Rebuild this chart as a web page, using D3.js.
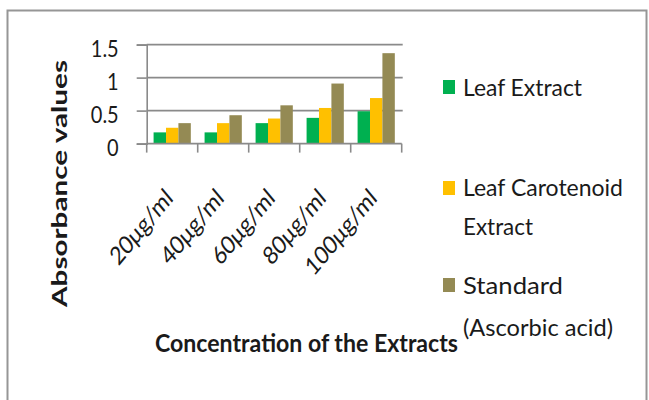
<!DOCTYPE html>
<html>
<head>
<meta charset="utf-8">
<script src="https://cdn.jsdelivr.net/npm/d3@7"></script>
<style>
  html, body { margin: 0; padding: 0; background: #fff; }
  svg { display: block; }
  text { font-family: Lato, "Open Sans", sans-serif; fill: #1a1a1a; }
</style>
</head>
<body>
<svg id="chart" width="649" height="400"></svg>
<script>
// Concentrations tested
const categories = ["20μg/ml", "40μg/ml", "60μg/ml", "80μg/ml", "100μg/ml"];

// Absorbance readings per sample
const leafExtract = [0.17, 0.17, 0.31, 0.39, 0.49];
const leafCarotenoidExtract = [0.24, 0.31, 0.38, 0.54, 0.69];
const standardAscorbic = [0.31, 0.43, 0.58, 0.91, 1.37];

const yTicks = [0, 0.5, 1, 1.5];
const yTickLabels = ["0", "0.5", "1", "1.5"];

const series = [
  { key: "leaf", label: ["Leaf Extract"], values: leafExtract, color: "#00b050" },
  { key: "carot", label: ["Leaf Carotenoid", "Extract"], values: leafCarotenoidExtract, color: "#ffc000" },
  { key: "std", label: ["Standard", "(Ascorbic acid)"], values: standardAscorbic, color: "#948a54" }
];

// text is drawn slightly tall and narrow
const S = 1.2;

const svg = d3.select("#chart");

// outer chart frame
svg.append("rect")
  .attr("x", 7.5).attr("y", 10.5)
  .attr("width", 639).attr("height", 420)
  .attr("fill", "#fff")
  .attr("stroke", "#969696").attr("stroke-width", 2);

const plotLeft = 146.7, plotRight = 401.7, plotTop = 44.6, plotBottom = 143.6;

const x0 = d3.scaleBand().domain(categories).range([plotLeft, plotRight]).padding(0);
const bw = x0.bandwidth();
const x1 = d3.scaleBand().domain(series.map(s => s.key)).range([bw * 0.135, bw * 0.865]).padding(0);
const y = d3.scaleLinear().domain([0, 1.5]).range([plotBottom, plotTop]);

const gridColor = "#8a8a8a";

// horizontal gridlines
svg.append("g").selectAll("line")
  .data(yTicks.filter(v => v > 0))
  .join("line")
  .attr("x1", plotLeft).attr("x2", plotRight + 1)
  .attr("y1", d => y(d)).attr("y2", d => y(d))
  .attr("stroke", gridColor).attr("stroke-width", 1.6);

// value axis
const yAxis = d3.axisLeft(y).tickValues(yTicks).tickSize(10)
  .tickFormat((d, i) => yTickLabels[i]);
const yG = svg.append("g").attr("transform", `translate(${plotLeft},0)`).call(yAxis);
yG.select(".domain").attr("stroke", gridColor).attr("stroke-width", 1.6);
yG.selectAll(".tick line").attr("stroke", gridColor).attr("stroke-width", 1.6);
yG.selectAll(".tick text").remove();
yG.selectAll(".tick").append("text")
  .attr("transform", `translate(-28,3) scale(1,${S})`)
  .attr("dy", "0.36em")
  .attr("text-anchor", "end")
  .attr("font-size", 20)
  .attr("font-family", "Lato, sans-serif")
  .attr("fill", "#1a1a1a")
  .text((d, i) => yTickLabels[i]);

// bars
const groups = svg.append("g").selectAll("g")
  .data(categories)
  .join("g")
  .attr("transform", d => `translate(${x0(d)},0)`);

groups.selectAll("rect")
  .data((d, i) => series.map(s => ({ key: s.key, value: s.values[i], color: s.color })))
  .join("rect")
  .attr("x", d => x1(d.key))
  .attr("width", x1.bandwidth())
  .attr("y", d => y(d.value))
  .attr("height", d => y(0) - y(d.value))
  .attr("fill", d => d.color);

// category axis with boundary ticks
const xG = svg.append("g").attr("transform", `translate(0,${plotBottom})`);
xG.append("line")
  .attr("x1", plotLeft).attr("x2", plotRight)
  .attr("stroke", gridColor).attr("stroke-width", 1.6);
const bounds = categories.map(c => x0(c)).concat([plotRight]);
xG.selectAll("line.tk")
  .data(bounds)
  .join("line")
  .attr("class", "tk")
  .attr("x1", d => d).attr("x2", d => d)
  .attr("y1", 0).attr("y2", 9)
  .attr("stroke", gridColor).attr("stroke-width", 1.6);

// rotated category labels
xG.selectAll("text")
  .data(categories)
  .join("text")
  .attr("transform", d => `translate(${x0(d) + bw / 2 + 2},${56}) scale(1,${S}) rotate(-45)`)
  .attr("text-anchor", "end")
  .attr("font-size", 21)
  .text(d => d);

// axis titles
svg.append("text")
  .attr("transform", `translate(155,352) scale(1,${S})`)
  .attr("font-size", 20).attr("font-weight", 700)
  .attr("textLength", 303).attr("lengthAdjust", "spacingAndGlyphs")
  .text("Concentration of the Extracts");

svg.append("text")
  .attr("transform", `translate(67,307) scale(1,${S}) rotate(-90)`)
  .attr("font-size", 20).attr("font-weight", 700)
  .attr("textLength", 247 / S).attr("lengthAdjust", "spacingAndGlyphs")
  .text("Absorbance values");

// legend
const legendRows = [
  { y: 87, lines: [87] },
  { y: 188, lines: [187, 226] },
  { y: 285, lines: [285, 327] }
];
const legendWidths = [[119], [160, 70], [100, 150]];

const lg = svg.append("g");
series.forEach((s, i) => {
  const row = legendRows[i];
  lg.append("rect")
    .attr("x", 443).attr("y", row.y - 7)
    .attr("width", 12).attr("height", 14)
    .attr("fill", s.color);
  s.label.forEach((line, j) => {
    lg.append("text")
      .attr("transform", `translate(463,${row.lines[j]}) scale(1,${S})`)
      .attr("dy", "0.36em")
      .attr("font-size", 20)
      .attr("textLength", legendWidths[i][j]).attr("lengthAdjust", "spacingAndGlyphs")
      .text(line);
  });
});
</script>
</body>
</html>
